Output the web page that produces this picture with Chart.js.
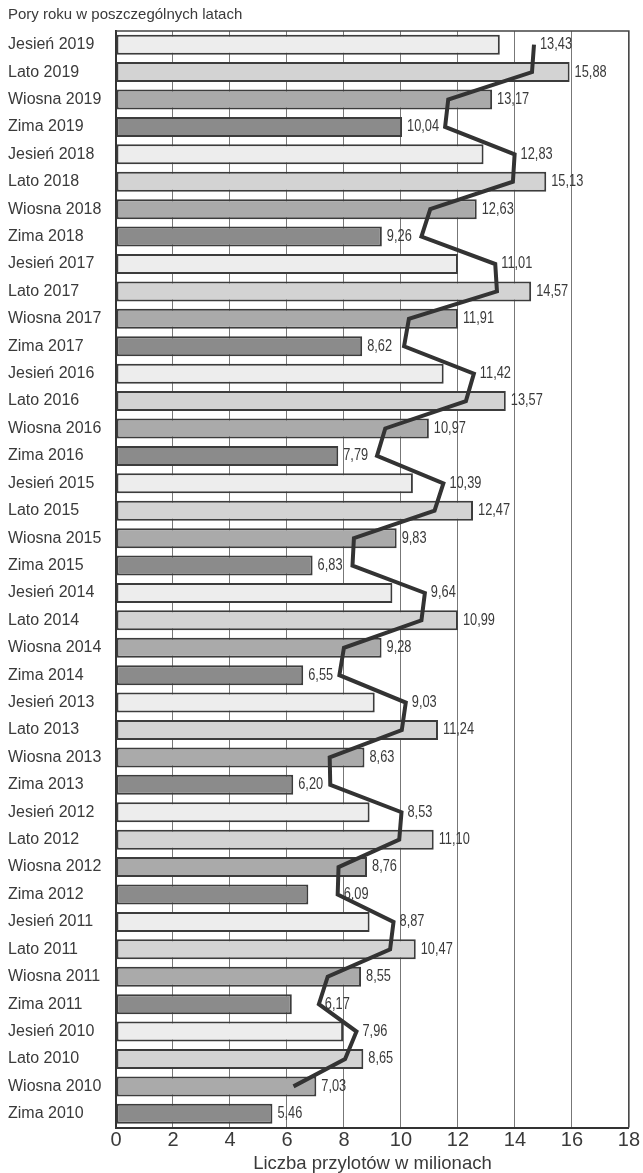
<!DOCTYPE html>
<html>
<head>
<meta charset="utf-8">
<script src="https://cdn.jsdelivr.net/npm/chart.js@4/dist/chart.umd.min.js"></script>
<style>
  body { margin: 0; background: #fff; }
</style>
</head>
<body>
<canvas id="chart" width="643" height="1173"></canvas>
<script>
const categories = [
  'Jesień 2019', 'Lato 2019', 'Wiosna 2019', 'Zima 2019',
  'Jesień 2018', 'Lato 2018', 'Wiosna 2018', 'Zima 2018',
  'Jesień 2017', 'Lato 2017', 'Wiosna 2017', 'Zima 2017',
  'Jesień 2016', 'Lato 2016', 'Wiosna 2016', 'Zima 2016',
  'Jesień 2015', 'Lato 2015', 'Wiosna 2015', 'Zima 2015',
  'Jesień 2014', 'Lato 2014', 'Wiosna 2014', 'Zima 2014',
  'Jesień 2013', 'Lato 2013', 'Wiosna 2013', 'Zima 2013',
  'Jesień 2012', 'Lato 2012', 'Wiosna 2012', 'Zima 2012',
  'Jesień 2011', 'Lato 2011', 'Wiosna 2011', 'Zima 2011',
  'Jesień 2010', 'Lato 2010', 'Wiosna 2010', 'Zima 2010'
];

// bar lengths as drawn in the picture
const barValues = [
  13.47, 15.92, 13.2, 10.04,
  12.9, 15.1, 12.66, 9.33,
  12.0, 14.57, 12.0, 8.64,
  11.5, 13.68, 10.98, 7.8,
  10.42, 12.53, 9.85, 6.9,
  9.7, 12.0, 9.32, 6.57,
  9.08, 11.3, 8.72, 6.22,
  8.9, 11.15, 8.81, 6.75,
  8.9, 10.52, 8.6, 6.17,
  7.97, 8.68, 7.03, 5.49
];

// numbers printed next to the bars
const printedValues = [
  '13,43', '15,88', '13,17', '10,04',
  '12,83', '15,13', '12,63', '9,26',
  '11,01', '14,57', '11,91', '8,62',
  '11,42', '13,57', '10,97', '7,79',
  '10,39', '12,47', '9,83', '6,83',
  '9,64', '10,99', '9,28', '6,55',
  '9,03', '11,24', '8,63', '6,20',
  '8,53', '11,10', '8,76', '6,09',
  '8,87', '10,47', '8,55', '6,17',
  '7,96', '8,65', '7,03', '5,46'
];

// the dark zigzag line
const lineValues = [
  14.67, 14.6, 11.66, 11.55,
  13.99, 13.93, 11.03, 10.72,
  13.31, 13.37, 10.28, 10.11,
  12.56, 12.28, 9.45, 9.16,
  11.49, 11.18, 8.35, 8.3,
  10.84, 10.72, 8.0, 7.84,
  10.17, 10.03, 7.5, 7.52,
  10.02, 9.94, 7.81, 7.78,
  9.74, 9.62, 7.43, 7.12,
  8.44, 8.04, 6.23, null
];

const xTicks = [0, 2, 4, 6, 8, 10, 12, 14, 16, 18];

const seasonColors = {
  'Jesień': '#ededed',
  'Lato': '#d3d3d3',
  'Wiosna': '#aaaaaa',
  'Zima': '#8b8b8b'
};
const barColors = categories.map(c => seasonColors[c.split(' ')[0]]);

const sans = '"Liberation Sans", Arial, sans-serif';

// frame around the plot area
const frame = {
  id: 'frame',
  beforeDatasetsDraw(chart) {
    const { ctx, chartArea: a } = chart;
    ctx.save();
    ctx.strokeStyle = '#444';
    ctx.lineWidth = 1.5;
    ctx.beginPath();
    ctx.moveTo(a.left, a.top);
    ctx.lineTo(a.right, a.top);
    ctx.lineTo(a.right, a.bottom);
    ctx.stroke();
    ctx.restore();
  }
};

// value labels after each bar; pushed past the line when it would cross them
const valueLabels = {
  id: 'valueLabels',
  afterDatasetsDraw(chart) {
    const { ctx } = chart;
    const bars = chart.getDatasetMeta(1).data;
    const pts = chart.getDatasetMeta(0).data;
    const squeeze = 0.8;
    ctx.save();
    ctx.font = '16px ' + sans;
    ctx.fillStyle = '#3a3a3a';
    ctx.textAlign = 'left';
    ctx.textBaseline = 'middle';
    bars.forEach((bar, i) => {
      const w = ctx.measureText(printedValues[i]).width * squeeze;
      let x = bar.x + 5;
      const p = pts[i];
      if (lineValues[i] !== null && p.x > bar.x && p.x < x + w + 5) {
        x = p.x + 6;
      }
      ctx.save();
      ctx.translate(x, bar.y);
      ctx.scale(squeeze, 1);
      ctx.fillText(printedValues[i], 0, 0);
      ctx.restore();
    });
    ctx.restore();
  }
};

new Chart(document.getElementById('chart'), {
  data: {
    labels: categories,
    datasets: [
      {
        type: 'line',
        data: lineValues,
        borderColor: '#333',
        borderWidth: 4,
        pointRadius: 0,
        fill: false,
        tension: 0,
        order: 0
      },
      {
        type: 'bar',
        data: barValues,
        backgroundColor: barColors,
        borderColor: '#3c3c3c',
        borderWidth: 2,
        borderSkipped: false,
        categoryPercentage: 1,
        barPercentage: 0.73,
        order: 1
      }
    ]
  },
  options: {
    indexAxis: 'y',
    responsive: false,
    animation: false,
    layout: { padding: { left: 8, right: 6, top: 0, bottom: 0 } },
    plugins: {
      legend: { display: false },
      tooltip: { enabled: false },
      title: {
        display: true,
        text: 'Pory roku w poszczególnych latach',
        align: 'start',
        color: '#3a3a3a',
        font: { family: sans, size: 15, weight: 'normal', lineHeight: 1.2 },
        padding: { top: 6, bottom: 7 }
      }
    },
    scales: {
      x: {
        type: 'linear',
        min: 0,
        max: 18,
        afterBuildTicks: s => { s.ticks = xTicks.map(v => ({ value: v })); },
        grid: { color: '#777', lineWidth: 1, drawTicks: false },
        border: { color: '#333', width: 2 },
        ticks: {
          color: '#3a3a3a',
          padding: 3,
          font: { family: sans, size: 20, lineHeight: 1 }
        },
        title: {
          display: true,
          text: 'Liczba przylotów w milionach',
          color: '#3a3a3a',
          font: { family: sans, size: 18.5, lineHeight: 1 },
          padding: { top: 1, bottom: 0 }
        }
      },
      y: {
        type: 'category',
        offset: true,
        afterFit: s => { s.width = 108; },
        grid: { display: false },
        border: { color: '#333', width: 2 },
        ticks: {
          crossAlign: 'far',
          autoSkip: false,
          color: '#3a3a3a',
          font: { family: sans, size: 16 }
        }
      }
    }
  },
  plugins: [frame, valueLabels]
});
</script>
</body>
</html>
